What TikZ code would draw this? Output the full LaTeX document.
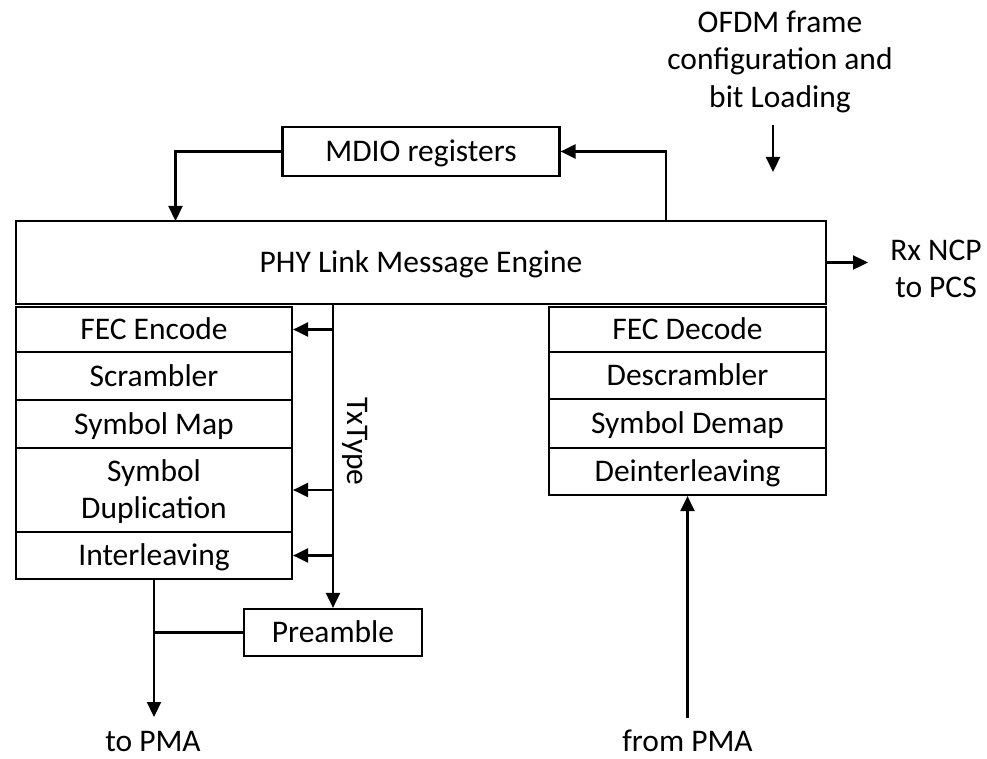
\documentclass[tikz,border=0pt]{standalone}
\usepackage{fontspec}
\setmainfont{Carlito}
\usetikzlibrary{arrows.meta,calc}
\begin{document}
\begin{tikzpicture}[x=1pt,y=-1pt,
  every node/.style={font=\fontsize{31.5}{37.5}\selectfont,text height=20pt,text depth=0pt},
  two/.style={text height=57.5pt},
  three/.style={text height=95pt},
  blk/.style={draw,line width=2.2pt,inner sep=0pt,align=center},
  conn/.style={line width=2.2pt},
  arr/.style={conn,-{Triangle[length=15pt,width=14pt]}},
  lbl/.style={inner sep=0pt,align=center}]
\useasboundingbox (0,0) rectangle (987,759);
% main blocks
\node[blk,minimum width=810pt,minimum height=83pt] (phy) at (421,262.5) {PHY Link Message Engine};
\node[blk,minimum width=277pt,minimum height=49pt] (mdio) at (421,151.5) {MDIO registers};
% left stack
\node[blk,minimum width=276pt,minimum height=45pt] (fec) at (154,329.5) {FEC Encode};
\node[blk,minimum width=276pt,minimum height=48pt] (scr) at (154,376) {Scrambler};
\node[blk,minimum width=276pt,minimum height=48pt] (smap) at (154,424) {Symbol Map};
\node[blk,two,minimum width=276pt,minimum height=84pt] (sdup) at (154,490) {Symbol\\Duplication};
\node[blk,minimum width=276pt,minimum height=47pt] (inter) at (154,555.5) {Interleaving};
% right stack
\node[blk,minimum width=277pt,minimum height=45pt] (fecd) at (687.5,329.5) {FEC Decode};
\node[blk,minimum width=277pt,minimum height=47pt] (desc) at (687.5,375.5) {Descrambler};
\node[blk,minimum width=277pt,minimum height=49pt] (sdem) at (687.5,423.5) {Symbol Demap};
\node[blk,minimum width=277pt,minimum height=47pt] (deint) at (687.5,471.5) {Deinterleaving};
% preamble
\node[blk,minimum width=178pt,minimum height=47pt] (pre) at (333,632.5) {Preamble};
% labels
\node[lbl,three] (ofdm) at (780,60) {OFDM frame\\configuration and\\bit Loading};
\node[lbl,two] (rx) at (936,269) {Rx NCP\\to PCS};
\node[lbl,rotate=-90] (txtype) at (357,441.5) {TxType};
\node[lbl] (topma) at (153,741) {to PMA};
\node[lbl] (frompma) at (687.5,741) {from PMA};
% coordinates
\coordinate (mdin) at (175.5,221);
\coordinate (mdout) at (666,221);
\coordinate (rxend) at (868,262.5);
\coordinate (ofa) at (773,125);
\coordinate (ofb) at (773,172);
\coordinate (toend) at (154,717);
\coordinate (fromstart) at (687.5,718);
% connectors
\draw[arr] (mdio.west) -| (mdin);
\draw[arr] (mdout) |- (mdio.east);
\draw[arr] (phy.east) -- (rxend);
\draw[arr] (ofa) -- (ofb);
\draw[arr] (pre.north |- phy.south) -- (pre.north);
\draw[arr] (pre.north |- fec.east) -- (fec.east);
\draw[arr] (pre.north |- sdup.east) -- (sdup.east);
\draw[arr] (pre.north |- inter.east) -- (inter.east);
\draw[arr] (inter.south) -- (toend);
\draw[conn] (pre.west) -- (pre.west -| inter.south);
\draw[arr] (fromstart) -- (deint.south);
\end{tikzpicture}
\end{document}
